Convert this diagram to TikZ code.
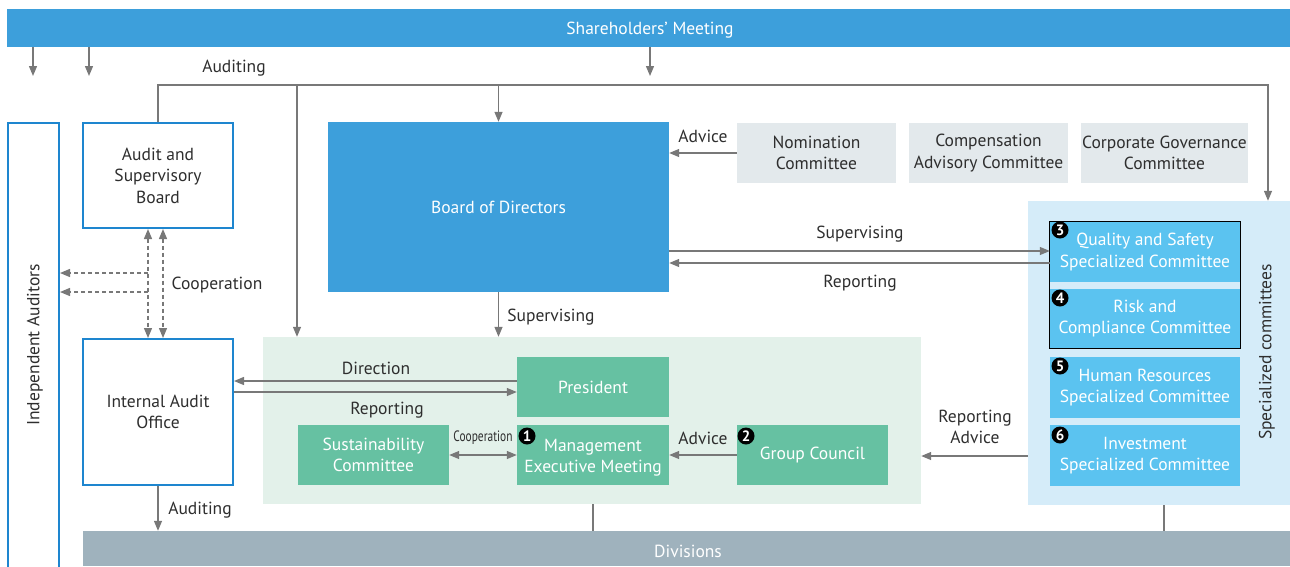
\documentclass[tikz,border=0pt]{standalone}
\usepackage{fontspec}
\usepackage{graphicx}
\setmainfont{PT Sans}
\usetikzlibrary{arrows.meta}
\definecolor{barblue}{HTML}{3D9FDB}
\definecolor{edgeblue}{HTML}{1E86CF}
\definecolor{greyfill}{HTML}{E3E9EC}
\definecolor{specbg}{HTML}{D5ECF9}
\definecolor{specbox}{HTML}{5BC3F0}
\definecolor{mgmtbg}{HTML}{E3F1EA}
\definecolor{greenbox}{HTML}{66C1A2}
\definecolor{divgrey}{HTML}{9FB2BD}
\definecolor{arrgrey}{HTML}{787878}
\definecolor{txt}{HTML}{2E2E2E}
\tikzset{
  every node/.style={font=\fontsize{17.5}{21.5}\selectfont, align=center, inner sep=0pt},
  outline/.style={draw=edgeblue, line width=2pt, fill=white, text=txt},
  region/.style={draw=none},
  greybox/.style={fill=greyfill, text=txt},
  specb/.style={fill=specbox, text=white},
  greenb/.style={fill=greenbox, text=white},
  lbl/.style={text=txt},
  conn/.style={draw=arrgrey, line width=1.3pt},
  arr/.style={conn, -{Triangle[length=10pt,width=8pt]}},
  darr/.style={draw=arrgrey, line width=1.3pt, dash pattern=on 4pt off 3pt},
  badge/.style={circle, fill=black, text=white, minimum size=17pt, font=\fontsize{15}{15}\selectfont\bfseries},
}
\begin{document}
\begin{tikzpicture}[x=1pt,y=-1pt]
\useasboundingbox (0,0) rectangle (1290,566);
% regions
\node[region, fill=specbg, minimum width=262pt, minimum height=304pt] (spec) at (1159,353) {};
\node[region, fill=mgmtbg, minimum width=658pt, minimum height=167pt] (mgmt) at (592,420.5) {};
% bars
\node[fill=barblue, text=white, minimum width=1283pt, minimum height=38pt] (share) at (648.5,28) {};
\node[text=white] at (650,30) {Shareholders' Meeting};
\node[fill=divgrey, text=white, minimum width=1207pt, minimum height=35pt] (div) at (686.5,548.5) {};
\node[text=white] at (688,551) {Divisions};
% left boxes
\node[outline, minimum width=51pt, minimum height=480pt] (indep) at (33.5,363) {};
\node[text=txt, rotate=90] at (35,345) {Independent Auditors};
\node[outline, minimum width=150pt, minimum height=105pt] (asb) at (158,175.5) {Audit and\\Supervisory\\Board};
\node[outline, minimum width=150pt, minimum height=146pt] (iao) at (158,412) {Internal Audit\\Office};
% board and committees
\node[fill=barblue, text=white, minimum width=341pt, minimum height=170pt] (board) at (498.5,207) {Board of Directors};
\node[greybox, minimum width=159pt, minimum height=60pt] (nom) at (816.5,153) {Nomination\\Committee};
\node[greybox, minimum width=159pt, minimum height=60pt] (comp) at (988.5,153) {Compensation\\Advisory Committee};
\node[greybox, minimum width=167pt, minimum height=60pt] (cgc) at (1164.5,153) {Corporate Governance\\Committee};
% specialized committees
\node[specb, minimum width=190pt, minimum height=60pt] (qs) at (1145,252) {Quality and Safety\\Specialized Committee};
\node[specb, minimum width=190pt, minimum height=59pt] (rc) at (1145,318.5) {Risk and\\Compliance Committee};
\node[specb, minimum width=190pt, minimum height=61pt] (hr) at (1145,387.5) {Human Resources\\Specialized Committee};
\node[specb, minimum width=190pt, minimum height=61pt] (inv) at (1145,455.5) {Investment\\Specialized Committee};
\draw[black, line width=1pt] (qs.north west) rectangle (rc.south east);
\node[badge] (b3) at (1060,230) {3};
\node[badge] (b4) at (1060,298) {4};
\node[badge] (b5) at (1060,366) {5};
\node[badge] (b6) at (1060,435) {6};
\node[text=txt, rotate=90] at (1267,352) {Specialized committees};
% management
\node[greenb, minimum width=152pt, minimum height=60pt] (pres) at (593,387) {President};
\node[greenb, minimum width=151pt, minimum height=60pt] (sus) at (373.5,455) {Sustainability\\Committee};
\node[greenb, minimum width=152pt, minimum height=60pt] (mem) at (593,455) {};
\node[text=white] (memt) at (593,457.5) {Management\\Executive Meeting};
\node[greenb, minimum width=151pt, minimum height=60pt] (gc) at (812.5,455) {Group Council};
\node[badge] (b1) at (527,436) {1};
\node[badge] (b2) at (746,436) {2};
% shareholder arrows
\draw[arr] (share.south -| 33,0) -- (33,76);
\draw[arr] (share.south -| 89,0) -- (89,76);
\draw[arr] (share.south -| 650,0) -- (650,76);
% auditing tree
\coordinate (tr) at (1268,85);
\coordinate (tm) at (297,85);
\draw[arr] (asb.north) |- (tr) -- (tr |- spec.north);
\draw[arr] (tm) -- (tm |- mgmt.north);
\draw[arr] (board.north |- tr) -- (board.north);
\node[lbl] at (234,68) {Auditing};
% cooperation dashed
\draw[darr, {Triangle[length=10pt,width=8pt]}-{Triangle[length=10pt,width=8pt]}] (asb.south -| 148,0) -- (iao.north -| 148,0);
\draw[darr, {Triangle[length=10pt,width=8pt]}-{Triangle[length=10pt,width=8pt]}] (asb.south -| 163,0) -- (iao.north -| 163,0);
\draw[darr, -{Triangle[length=10pt,width=8pt]}] (148,273) -- (indep.east |- 0,273);
\draw[darr, -{Triangle[length=10pt,width=8pt]}] (148,292) -- (indep.east |- 0,292);
\node[lbl] at (217,285) {Cooperation};
% advice nomination
\draw[arr] (nom.west) -- (nom.west -| board.east);
\node[lbl] at (703,136) {Advice};
% supervising / reporting
\draw[arr] (board.east |- 0,251) -- (qs.west |- 0,251);
\draw[arr] (qs.west |- 0,263) -- (board.east |- 0,263);
\node[lbl] at (860,234) {Supervising};
\node[lbl] at (860,283) {Reporting};
\draw[arr] (board.south) -- (board.south |- mgmt.north);
\node[lbl] at (551,317) {Supervising};
% direction / reporting
\draw[arr] (pres.west |- 0,381) -- (iao.east |- 0,381);
\draw[arr] (iao.east |- 0,392) -- (pres.west |- 0,392);
\node[lbl] at (376,368) {Direction};
\node[lbl] at (387,410) {Reporting};
% cooperation / advice in mgmt
\draw[conn, {Triangle[length=10pt,width=8pt]}-{Triangle[length=10pt,width=8pt]}] (sus.east) -- (mem.west);
\node[lbl] at (483,438) {\fontsize{15}{15}\selectfont\scalebox{0.76}[1]{Cooperation}};
\draw[arr] (gc.west) -- (mem.east);
\node[lbl] at (703,438) {Advice};
\draw[arr] (spec.west |- 0,456) -- (mgmt.east |- 0,456);
\node[lbl] at (975,427) {Reporting\\Advice};
% auditing to divisions
\draw[arr] (iao.south) -- (iao.south |- div.north);
\node[lbl] at (200,510) {Auditing};
\draw[conn] (mgmt.south -| 593,0) -- (div.north -| 593,0);
\draw[conn] (spec.south -| 1164,0) -- (div.north -| 1164,0);
\end{tikzpicture}
\end{document}
